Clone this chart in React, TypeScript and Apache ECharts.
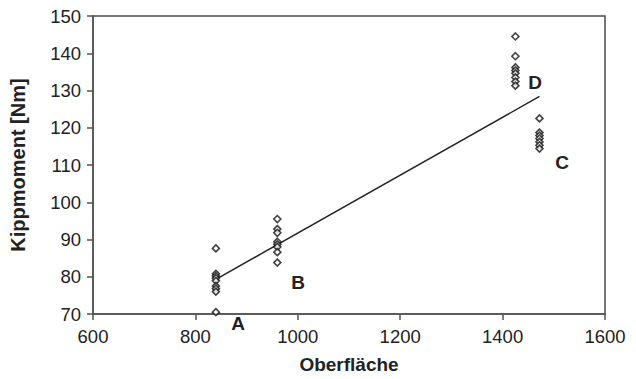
import React, { useEffect, useRef } from "react";
import * as echarts from "echarts";

const xA = 840;
const valuesA = [87.6, 80.8, 80.2, 79.6, 78.9, 77.5, 76.8, 76.0, 70.5];
const xB = 960;
const valuesB = [95.5, 92.8, 91.8, 89.4, 88.7, 88.0, 86.6, 83.8];
const xC = 1472;
const valuesC = [122.5, 118.7, 117.9, 117.1, 116.2, 115.3, 114.4];
const xD = 1425;
const valuesD = [144.5, 139.2, 136.2, 135.4, 134.6, 133.5, 132.4, 131.3];

const trendX = [840, 1472];
const trendY = [79.3, 128.4];

const groupLabels = ["A", "B", "C", "D"];

const font = "'Liberation Sans', Arial, sans-serif";

export default function App() {
  const ref = useRef<HTMLDivElement>(null);
  useEffect(() => {
    document.body.style.margin = "0";
    const chart = echarts.init(ref.current!, null, { renderer: "svg" });
    const pts = [
      ...valuesA.map((v) => [xA, v]),
      ...valuesB.map((v) => [xB, v]),
      ...valuesC.map((v) => [xC, v]),
      ...valuesD.map((v) => [xD, v]),
    ];
    const labelPos: [number, number][] = [
      [238, 323],
      [298, 282],
      [562, 162],
      [535, 82],
    ];
    chart.setOption({
      animation: false,
      backgroundColor: "#ffffff",
      grid: {
        left: 93,
        right: 31,
        top: 16,
        bottom: 63,
        show: true,
        borderColor: "#4a4a4a",
        borderWidth: 1.5,
        backgroundColor: "transparent",
      },
      xAxis: {
        type: "value",
        min: 600,
        max: 1600,
        interval: 200,
        name: "Oberfläche",
        nameLocation: "middle",
        nameGap: 41,
        nameTextStyle: { fontFamily: font, fontSize: 19, fontWeight: "bold", color: "#222" },
        axisLine: { show: true, lineStyle: { color: "#555", width: 1.5 } },
        axisTick: { show: true, length: 6, lineStyle: { color: "#555", width: 1.5 } },
        axisLabel: {
          fontFamily: font,
          fontSize: 18.5,
          color: "#222",
          margin: 13,
          formatter: (v: number) => String(v),
        },
        splitLine: { show: false },
      },
      yAxis: {
        type: "value",
        min: 70,
        max: 150,
        interval: 10,
        name: "Kippmoment [Nm]",
        nameLocation: "middle",
        nameGap: 65,
        nameRotate: 90,
        nameTextStyle: { fontFamily: font, fontSize: 20, fontWeight: "bold", color: "#222" },
        axisLine: { show: true, lineStyle: { color: "#555", width: 1.5 } },
        axisTick: { show: true, length: 6, lineStyle: { color: "#555", width: 1.5 } },
        axisLabel: { fontFamily: font, fontSize: 18.5, color: "#222", margin: 12 },
        splitLine: { show: false },
      },
      graphic: groupLabels.map((t, i) => ({
        type: "text",
        x: labelPos[i][0],
        y: labelPos[i][1],
        style: {
          text: t,
          font: `bold 19px ${font}`,
          fill: "#222",
          textAlign: "center",
          textVerticalAlign: "middle",
        },
      })),
      series: [
        {
          type: "line",
          data: trendX.map((x, i) => [x, trendY[i]]),
          symbol: "none",
          lineStyle: { color: "#222", width: 1.5 },
          z: 2,
        },
        {
          type: "scatter",
          data: pts,
          symbol: "diamond",
          symbolSize: 7,
          itemStyle: { color: "#ffffff", borderColor: "#111", borderWidth: 1.6 },
          z: 3,
          clip: false,
        },
      ],
    });
    return () => chart.dispose();
  }, []);
  return <div ref={ref} style={{ width: 636, height: 379 }} />;
}
